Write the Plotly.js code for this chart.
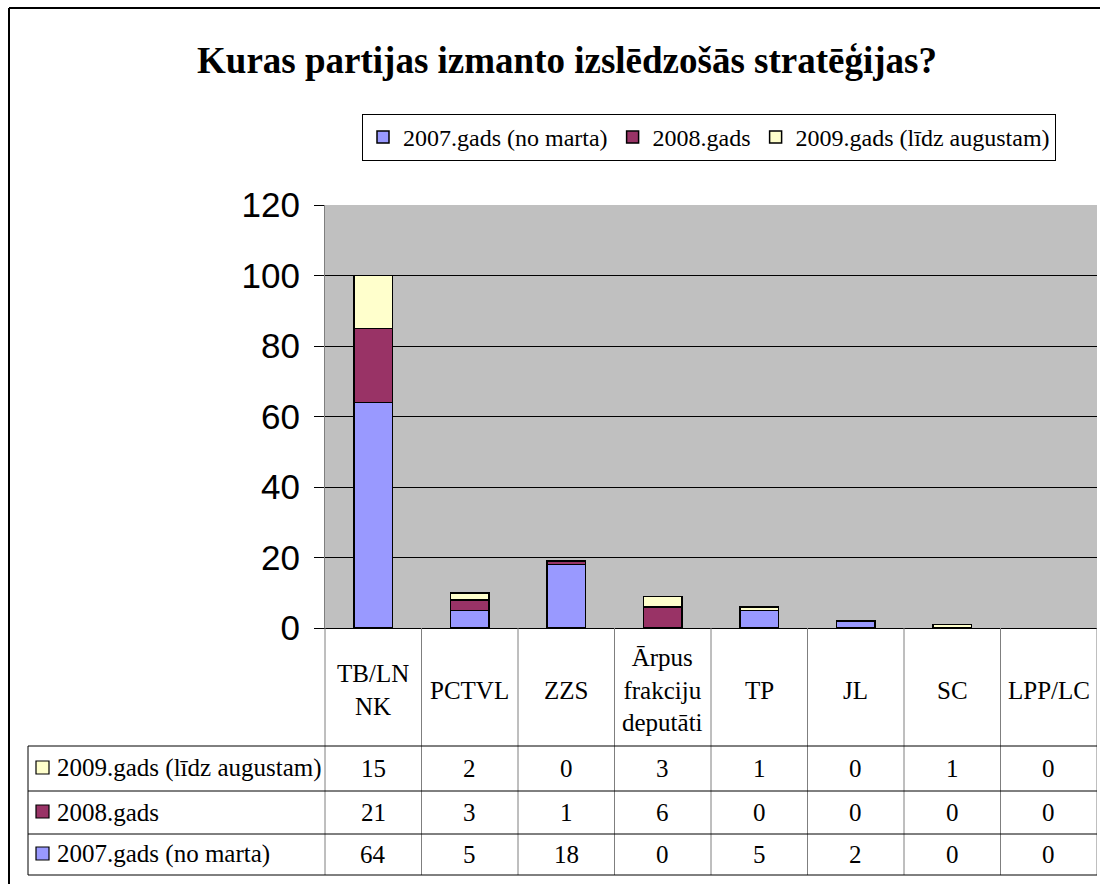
<!DOCTYPE html>
<html>
<head>
<meta charset="utf-8">
<script src="https://cdn.plot.ly/plotly-3.0.1.min.js"></script>
<style>html,body{margin:0;padding:0;background:#fff;}#chart{width:1100px;height:884px;}</style>
</head>
<body>
<div id="chart"></div>
<script>
// ---- data ----
const categories = ["TB/LN NK", "PCTVL", "ZZS", "Ārpus frakciju deputāti", "TP", "JL", "SC", "LPP/LC"];
const categoryLabels = ["TB/LN<br>NK", "PCTVL", "ZZS", "Ārpus<br>frakciju<br>deputāti", "TP", "JL", "SC", "LPP/LC"];
const seriesNames = ["2007.gads (no marta)", "2008.gads", "2009.gads (līdz augustam)"];
const values2007 = [64, 5, 18, 0, 5, 2, 0, 0];
const values2008 = [21, 3, 1, 6, 0, 0, 0, 0];
const values2009 = [15, 2, 0, 3, 1, 0, 1, 0];
const seriesColors = ["#9999FF", "#993366", "#FFFFCC"];
const yTicks = [0, 20, 40, 60, 80, 100, 120];

// ---- geometry helpers (pixel -> paper) ----
const FW = 1100, FH = 884;
const L = 325, R = 3, T = 205, B = 256;
const W = FW - L - R, H = FH - T - B;
const pxX = p => (p - L) / W;
const pxY = p => (T + H - p) / H;

const serif = "Liberation Serif, Times New Roman, serif";
const sans = "Liberation Sans, Arial, sans-serif";

const seriesValues = [values2007, values2008, values2009];
const traces = seriesValues.map((vals, i) => ({
  type: "bar",
  name: seriesNames[i],
  x: categories,
  y: vals.map(v => (v === 0 ? null : v)), // empty segments are not drawn
  marker: {color: seriesColors[i], line: {color: "#000", width: 1.5}},
  hoverinfo: "x+y+name"
}));

const shapes = [];
const annotations = [];
const lineBlack = {color: "#000", width: 1};
const lineGray = {color: "#7f7f7f", width: 1};

// outer chart border (left and top)
shapes.push({type: "line", xref: "paper", yref: "paper", x0: pxX(9), x1: pxX(9), y0: pxY(8), y1: pxY(FH + 5), line: {color: "#000", width: 2}});
shapes.push({type: "line", xref: "paper", yref: "paper", x0: pxX(9), x1: pxX(FW + 5), y0: pxY(8), y1: pxY(8), line: {color: "#000", width: 2}});

// data table geometry
const tableTop = 746, rowLines = [746, 791, 834, 875];
const tableLeft = 28, tableBottom = 875;
const labelRowCenter = 690;
const rowCenters = [768, 812, 854]; // 2009, 2008, 2007

// y-axis extension through table
shapes.push({type: "line", xref: "paper", yref: "paper", x0: 0, x1: 0, y0: 0, y1: pxY(tableBottom), line: lineGray});
// category dividers
for (let i = 0; i < categories.length; i++) {
  shapes.push({type: "line", xref: "x", yref: "paper", x0: i + 0.5, x1: i + 0.5, y0: 0, y1: pxY(tableBottom), line: lineGray});
}
// horizontal table lines
rowLines.forEach(py => {
  shapes.push({type: "line", xref: "paper", yref: "paper", x0: pxX(tableLeft), x1: 1, y0: pxY(py), y1: pxY(py), line: lineBlack});
});
// table left edge
shapes.push({type: "line", xref: "paper", yref: "paper", x0: pxX(tableLeft), x1: pxX(tableLeft), y0: pxY(tableTop), y1: pxY(tableBottom), line: lineBlack});

// category labels
categoryLabels.forEach((lab, i) => {
  annotations.push({xref: "x", yref: "paper", x: categories[i], y: pxY(labelRowCenter), text: lab, showarrow: false,
    xanchor: "center", yanchor: "middle", align: "center", font: {family: serif, size: 25, color: "#000"}});
});

// table rows: 2009 top, 2008, 2007 bottom
const rowOrder = [2, 1, 0];
rowOrder.forEach((si, r) => {
  const cy = rowCenters[r];
  shapes.push({type: "rect", xref: "paper", yref: "paper", x0: pxX(36), x1: pxX(49), y0: pxY(cy - 7), y1: pxY(cy + 6),
    fillcolor: seriesColors[si], line: {color: "#000", width: 1.2}});
  annotations.push({xref: "paper", yref: "paper", x: pxX(55), y: pxY(cy), text: seriesNames[si], showarrow: false,
    xanchor: "left", yanchor: "middle", font: {family: serif, size: 25, color: "#000"}});
  seriesValues[si].forEach((v, i) => {
    annotations.push({xref: "x", yref: "paper", x: categories[i], y: pxY(cy), text: String(v), showarrow: false,
      xanchor: "center", yanchor: "middle", font: {family: serif, size: 25, color: "#000"}});
  });
});

const layout = {
  width: FW, height: FH,
  margin: {l: L, r: R, t: T, b: B, pad: 0},
  paper_bgcolor: "#fff",
  plot_bgcolor: "#C0C0C0",
  barmode: "stack",
  bargap: 0.6,
  title: {
    text: "<b>Kuras partijas izmanto izslēdzošās stratēģijas?</b>",
    font: {family: serif, size: 37, color: "#000"},
    x: 567 / FW, xanchor: "center",
    y: 1 - 60 / FH, yanchor: "middle", xref: "container", yref: "container"
  },
  showlegend: true,
  legend: {
    orientation: "h", traceorder: "normal",
    x: pxX(362), xanchor: "left", y: pxY(114), yanchor: "top",
    bgcolor: "#fff", bordercolor: "#000", borderwidth: 1,
    font: {family: serif, size: 24, color: "#000"},
    itemwidth: 30
  },
  xaxis: {
    type: "category",
    categoryorder: "array", categoryarray: categories,
    range: [-0.5, categories.length - 0.5],
    showticklabels: false, ticks: "",
    showline: true, linecolor: "#000", linewidth: 1,
    showgrid: false, zeroline: false, fixedrange: true
  },
  yaxis: {
    range: [0, 120],
    tickvals: yTicks,
    ticktext: yTicks.map(String),
    ticks: "outside", ticklen: 10, tickcolor: "#000", tickwidth: 1,
    ticklabelstandoff: 7,
    tickfont: {family: sans, size: 35, color: "#000"},
    showline: true, linecolor: "#7f7f7f", linewidth: 1,
    showgrid: true, gridcolor: "#000", gridwidth: 1,
    zeroline: false, fixedrange: true
  },
  shapes: shapes,
  annotations: annotations
};

Plotly.newPlot("chart", traces, layout, {displayModeBar: false, staticPlot: true});
</script>
</body>
</html>
